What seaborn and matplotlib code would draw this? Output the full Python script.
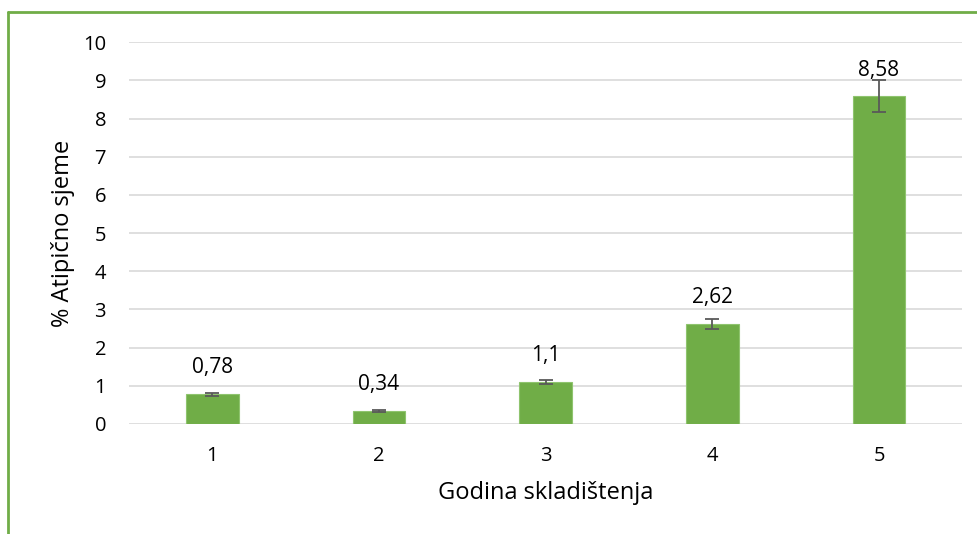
import matplotlib
matplotlib.use("Agg")
import matplotlib.pyplot as plt
from matplotlib.lines import Line2D
import seaborn as sns
import pandas as pd

years = ["1", "2", "3", "4", "5"]
values = [0.78, 0.34, 1.1, 2.62, 8.58]
errors = [0.04, 0.02, 0.05, 0.14, 0.42]
labels = ["0,78", "0,34", "1,1", "2,62", "8,58"]

sns.set_theme(style="white")
plt.rcParams['font.family'] = ['Open Sans', 'DejaVu Sans']

df = pd.DataFrame({"year": years, "value": values})

fig = plt.figure(figsize=(9.77, 5.34), dpi=100)
ax = fig.add_axes([0.132, 0.206, 0.853, 0.715])

sns.barplot(data=df, x="year", y="value", color="#70ad47", width=0.315,
            errorbar=None, saturation=1, ax=ax, zorder=3,
            edgecolor="#8fc46e", linewidth=0.8)
ax.errorbar(range(len(years)), values, yerr=errors, fmt="none",
            ecolor="#595959", elinewidth=1.3, capsize=5, capthick=1.3, zorder=4)

for i, (v, lab) in enumerate(zip(values, labels)):
    ax.annotate(lab, (i, v), xytext=(0, 19), textcoords="offset points",
                ha="center", va="center", fontsize=15, color="#000000")

ax.set_ylim(0, 10)
ax.set_yticks(range(0, 11))
ax.set_xlim(-0.5, 4.5)
ax.yaxis.grid(True, color="#d9d9d9", linewidth=1.2, zorder=0)
ax.set_axisbelow(True)
for s in ax.spines.values():
    s.set_visible(False)
ax.tick_params(axis="both", length=0, labelsize=14.5, colors="#000000")
ax.tick_params(axis="y", pad=16.5)
ax.tick_params(axis="x", pad=16)
ax.set_xlabel("Godina skladištenja", fontsize=17, color="#000000", labelpad=11)
ax.set_ylabel("% Atipično sjeme", fontsize=17, color="#000000", labelpad=6)

fig.add_artist(Line2D([8/977, 1], [1-12/534, 1-12/534], color="#70ad47", lw=2))
fig.add_artist(Line2D([8/977, 8/977], [0, 1-12/534], color="#70ad47", lw=2))

fig.savefig("out.png", dpi=100)
